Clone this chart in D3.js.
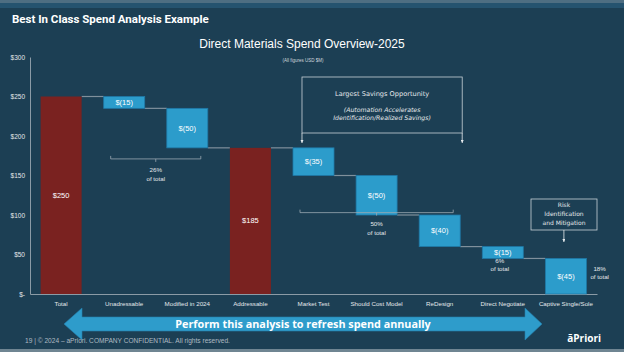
<!DOCTYPE html>
<html>
<head>
<meta charset="utf-8">
<script src="https://cdn.jsdelivr.net/npm/d3@7"></script>
<style>
  body { margin: 0; background: #1c3f54; }
  svg { display: block; }
</style>
</head>
<body>
<div id="chart"></div>
<script>
// chart data
const categories = ['Total', 'Unadressable', 'Modified in 2024', 'Addressable', 'Market Test',
  'Should Cost Model', 'ReDesign', 'Direct Negotiate', 'Captive Single/Sole'];
const values = [250, -15, -50, 185, -35, -50, -40, -15, -45];
const isTotal = [true, false, false, true, false, false, false, false, false];
const barLabels = ['$250', '$(15)', '$(50)', '$185', '$(35)', '$(50)', '$(40)', '$(15)', '$(45)'];
const yTicks = [0, 50, 100, 150, 200, 250, 300];

const W = 624, H = 352;
const margin = { top: 57, left: 30, right: 27, bottom: 58 };

const svg = d3.select('#chart').append('svg')
  .attr('width', W)
  .attr('height', H);

//background + strips
svg.append('rect').attr('width', W).attr('height', H).attr('fill', '#1c3f54');
svg.append('rect').attr('width', W).attr('height', 3).attr('fill', '#4e6e82');
svg.append('rect').attr('y', 3).attr('width', W).attr('height', 5).attr('fill', '#25536f');
svg.append('rect').attr('y', 349).attr('width', W).attr('height', 3).attr('fill', '#6f8592');

svg.append('text')
  .attr('x', 12).attr('y', 23)
  .attr('fill', 'white')
  .attr('font-family', 'Roboto, Liberation Sans, sans-serif')
  .attr('font-weight', 'bold')
  .attr('font-size', 11.5)
  .text('Best In Class Spend Analysis Example');

svg.append('text')
  .attr('x', 302).attr('y', 48)
  .attr('text-anchor', 'middle')
  .attr('fill', 'white')
  .attr('font-family', 'Liberation Sans, Arial, sans-serif')
  .attr('font-size', 12)
  .text('Direct Materials Spend Overview-2025');

svg.append('text')
  .attr('x', 303).attr('y', 62)
  .attr('text-anchor', 'middle')
  .attr('fill', '#d0d8de')
  .attr('font-family', 'Liberation Sans, Arial, sans-serif')
  .attr('font-size', 4.5)
  .text('(All figures USD $M)');

//scales
const x = d3.scaleBand()
  .domain(categories)
  .range([margin.left, W - margin.right])
  .paddingInner(0.35)
  .paddingOuter(0.168);

const y = d3.scaleLinear()
  .domain([0, 300])
  .range([H - margin.bottom, margin.top]);

//waterfall start/end
let running = 0;
const steps = categories.map((c, i) => {
  let start, end;
  if (isTotal[i]) { start = 0; end = values[i]; running = values[i]; }
  else { start = running; end = running + values[i]; running = end; }
  return { cat: c, start: start, end: end, total: isTotal[i], label: barLabels[i] };
});

//y axis
const yAxis = d3.axisLeft(y)
  .tickValues(yTicks)
  .tickSize(0)
  .tickPadding(5)
  .tickFormat(d => d === 0 ? '$-' : '$' + d);

const gy = svg.append('g')
  .attr('transform', `translate(${margin.left},0)`)
  .call(yAxis);
gy.select('.domain').attr('stroke', '#8b9ba6').attr('stroke-width', 1);
gy.selectAll('text')
  .attr('fill', '#e4e8eb')
  .attr('font-family', 'Liberation Sans, Arial, sans-serif')
  .attr('font-size', 6.5);

//x axis
const xAxis = d3.axisBottom(x).tickSize(0).tickPadding(8);
const gx = svg.append('g')
  .attr('transform', `translate(0,${y(0)})`)
  .call(xAxis);
gx.select('.domain').attr('stroke', '#8b9ba6').attr('stroke-width', 1.2);
gx.selectAll('text')
  .attr('fill', '#e4e8eb')
  .attr('font-family', 'Liberation Sans, Arial, sans-serif')
  .attr('font-size', 6.2);

//connectors
svg.append('g').selectAll('line')
  .data(steps.slice(0, -1))
  .join('line')
  .attr('x1', d => x(d.cat) + x.bandwidth())
  .attr('x2', (d, i) => x(categories[i + 1]))
  .attr('y1', d => y(d.end))
  .attr('y2', d => y(d.end))
  .attr('stroke', '#7f909c')
  .attr('stroke-width', 1.2);

//bars
svg.append('g').selectAll('rect')
  .data(steps)
  .join('rect')
  .attr('x', d => x(d.cat))
  .attr('width', x.bandwidth())
  .attr('y', d => y(Math.max(d.start, d.end)))
  .attr('height', d => Math.abs(y(d.start) - y(d.end)))
  .attr('fill', d => d.total ? '#7a2220' : '#2c9ccb')
  .attr('stroke', d => d.total ? 'none' : '#1f78a6')
  .attr('stroke-width', 0.8);

svg.append('g').selectAll('text')
  .data(steps)
  .join('text')
  .attr('x', d => x(d.cat) + x.bandwidth() / 2)
  .attr('y', d => (y(d.start) + y(d.end)) / 2 + 2.5)
  .attr('text-anchor', 'middle')
  .attr('fill', 'white')
  .attr('font-family', 'Liberation Sans, Arial, sans-serif')
  .attr('font-size', 7.5)
  .text(d => d.label);

//brackets with share of total
const brackets = [
  { from: 'Unadressable', to: 'Modified in 2024', level: 171, pct: '26%' },
  { from: 'Market Test', to: 'ReDesign', level: 103, pct: '50%' }
];
const fontS = 'Liberation Sans, Arial, sans-serif';
brackets.forEach(b => {
  const x1 = x(b.from) + 7, x2 = x(b.to) + x.bandwidth() - 7;
  const yb = y(b.level), cx = (x1 + x2) / 2;
  svg.append('path')
    .attr('d', `M${x1},${yb - 3}V${yb}H${x2}V${yb - 3}M${cx},${yb}V${yb + 3}`)
    .attr('fill', 'none')
    .attr('stroke', '#9aa8b2')
    .attr('stroke-width', 0.8);
  svg.append('text').attr('x', cx).attr('y', yb + 13).attr('text-anchor', 'middle')
    .attr('fill', '#e4e8eb').attr('font-family', fontS).attr('font-size', 6.2).text(b.pct);
  svg.append('text').attr('x', cx).attr('y', yb + 22).attr('text-anchor', 'middle')
    .attr('fill', '#e4e8eb').attr('font-family', fontS).attr('font-size', 6.2).text('of total');
});

//6% and 18% labels
const dn = x('Direct Negotiate') + x.bandwidth() / 2;
svg.append('text').attr('x', dn - 3).attr('y', 263).attr('text-anchor', 'middle')
  .attr('fill', '#e4e8eb').attr('font-family', fontS).attr('font-size', 6.2).text('6%');
svg.append('text').attr('x', dn - 3).attr('y', 271).attr('text-anchor', 'middle')
  .attr('fill', '#e4e8eb').attr('font-family', fontS).attr('font-size', 6.2).text('of total');
const cs = x('Captive Single/Sole') + x.bandwidth() + 7;
svg.append('text').attr('x', cs).attr('y', 271).attr('text-anchor', 'start')
  .attr('fill', '#e4e8eb').attr('font-family', fontS).attr('font-size', 6.2).text('18%');
svg.append('text').attr('x', cs - 3).attr('y', 279).attr('text-anchor', 'start')
  .attr('fill', '#e4e8eb').attr('font-family', fontS).attr('font-size', 6.2).text('of total');

//arrow marker
svg.append('defs').append('marker')
  .attr('id', 'tip')
  .attr('viewBox', '0 0 10 10')
  .attr('refX', 10).attr('refY', 5)
  .attr('markerWidth', 4).attr('markerHeight', 4)
  .attr('orient', 'auto')
  .append('path')
  .attr('d', 'M0,0L10,5L0,10Z')
  .attr('fill', '#e8ecef');

//largest savings box
const boxFont = 'DejaVu Sans, Lato, sans-serif';
const bx1 = x('Market Test') + 9, bx2 = x('ReDesign') + x.bandwidth() + 2;
svg.append('rect')
  .attr('x', bx1).attr('y', 77)
  .attr('width', bx2 - bx1).attr('height', 56)
  .attr('fill', 'none')
  .attr('stroke', '#c9d2d8')
  .attr('stroke-width', 0.8);
[bx1, bx2].forEach(xx => {
  svg.append('line')
    .attr('x1', xx).attr('x2', xx)
    .attr('y1', 133).attr('y2', 143)
    .attr('stroke', '#e8ecef').attr('stroke-width', 0.8)
    .attr('marker-end', 'url(#tip)');
});
const bcx = (bx1 + bx2) / 2;
svg.append('text').attr('x', bcx).attr('y', 96).attr('text-anchor', 'middle')
  .attr('fill', '#e4e8eb').attr('font-family', boxFont).attr('font-size', 6.6)
  .text('Largest Savings Opportunity');
svg.append('text').attr('x', bcx).attr('y', 112).attr('text-anchor', 'middle')
  .attr('fill', '#e4e8eb').attr('font-family', boxFont).attr('font-size', 6.2).attr('font-style', 'italic')
  .text('(Automation Accelerates');
svg.append('text').attr('x', bcx).attr('y', 120).attr('text-anchor', 'middle')
  .attr('fill', '#e4e8eb').attr('font-family', boxFont).attr('font-size', 6.2).attr('font-style', 'italic')
  .text('Identification/Realized Savings)');

//risk box
const rx = x('Captive Single/Sole') + x.bandwidth() / 2 - 2;
svg.append('rect')
  .attr('x', 531).attr('y', 199)
  .attr('width', 66).attr('height', 31)
  .attr('fill', 'none')
  .attr('stroke', '#c9d2d8')
  .attr('stroke-width', 0.8);
['Risk', 'Identification', 'and Mitigation'].forEach((t, i) => {
  svg.append('text').attr('x', 564).attr('y', 207 + i * 9).attr('text-anchor', 'middle')
    .attr('fill', '#e4e8eb').attr('font-family', boxFont).attr('font-size', 6).text(t);
});
svg.append('line')
  .attr('x1', rx).attr('x2', rx)
  .attr('y1', 230).attr('y2', 242)
  .attr('stroke', '#e8ecef').attr('stroke-width', 0.8)
  .attr('marker-end', 'url(#tip)');

//double arrow at the bottom
svg.append('path')
  .attr('d', 'M64,324L82,308L82,317L525,317L525,308L542,324L525,340L525,331L82,331L82,340Z')
  .attr('fill', '#2e9ccb')
  .attr('stroke', '#2580ad')
  .attr('stroke-width', 0.6);
svg.append('text')
  .attr('x', 303).attr('y', 328)
  .attr('text-anchor', 'middle')
  .attr('fill', 'white')
  .attr('font-family', 'Open Sans, Noto Sans, sans-serif')
  .attr('font-weight', 'bold')
  .attr('font-size', 10.8)
  .text('Perform this analysis to refresh spend annually');

//footer
svg.append('text')
  .attr('x', 25).attr('y', 343)
  .attr('fill', '#aebac2')
  .attr('font-family', fontS)
  .attr('font-size', 6.6)
  .text('19  |  © 2024 – aPriori. COMPANY CONFIDENTIAL. All rights reserved.');
svg.append('text')
  .attr('x', 601).attr('y', 342)
  .attr('text-anchor', 'end')
  .attr('fill', 'white')
  .attr('font-family', 'Open Sans, Noto Sans, sans-serif')
  .attr('font-weight', 'bold')
  .attr('font-size', 10)
  .text('āPriori');
</script>
</body>
</html>
